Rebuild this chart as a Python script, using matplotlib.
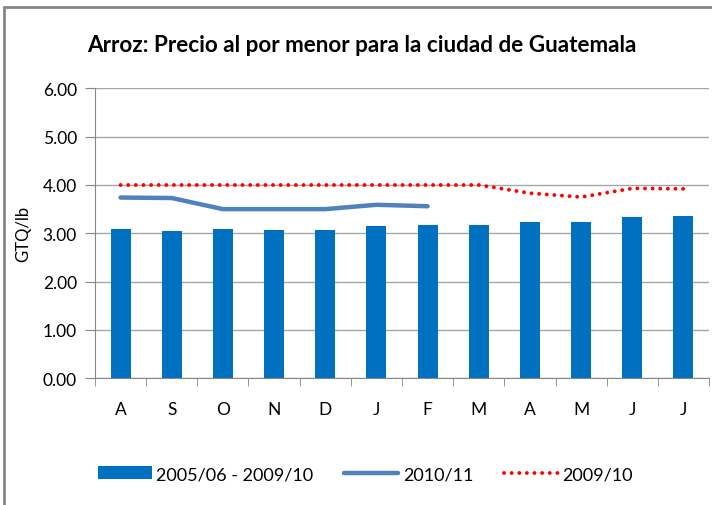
import matplotlib
matplotlib.use('Agg')
from matplotlib import pyplot as plt
from matplotlib.patches import Rectangle
import numpy as np

# Data
months = ['A', 'S', 'O', 'N', 'D', 'J', 'F', 'M', 'A', 'M', 'J', 'J']
avg_0506_0910 = [3.09, 3.04, 3.08, 3.06, 3.06, 3.15, 3.17, 3.17, 3.23, 3.23, 3.34, 3.36]
season_1011 = [3.74, 3.73, 3.50, 3.50, 3.50, 3.59, 3.56]
season_0910 = [4.00, 4.00, 4.00, 4.00, 4.00, 4.00, 4.00, 4.00, 3.83, 3.75, 3.93, 3.92]
yticks = [0, 1, 2, 3, 4, 5, 6]

plt.rcParams['font.family'] = ['Lato', 'DejaVu Sans']

fig = plt.figure(figsize=(7.12, 5.06), dpi=100)
ax = fig.add_axes([0.1334, 0.2504, 0.9958 - 0.1334, 0.8235 - 0.2504])

x = np.arange(len(months))
bars = ax.bar(x, avg_0506_0910, width=0.39, color='#0070C0', zorder=2)
l1, = ax.plot(x[:len(season_1011)], season_1011, color='#4F81BD', lw=3.2,
              solid_capstyle='round', zorder=3)
l2, = ax.plot(x, season_0910, color='#FF0000', lw=2.8, ls=(0, (0.01, 1.95)),
              dash_capstyle='round', zorder=4)

ax.set_xlim(-0.5, len(months) - 0.5)
ax.set_ylim(0, 6)
ax.set_yticks(yticks)
ax.set_yticklabels(['%.2f' % v for v in yticks], fontsize=12.5)
ax.set_xticks(x)
ax.set_xticklabels(months, fontsize=12.5)
ax.set_xticks(np.arange(-0.5, len(months)), minor=True)
ax.tick_params(axis='x', which='major', length=0, pad=16)
ax.tick_params(axis='x', which='minor', length=6, color='#868686')
ax.tick_params(axis='y', length=7, color='#868686', pad=6)
ax.grid(axis='y', color='#a6a6a6', lw=1, zorder=0)
for s in ['top', 'right']:
    ax.spines[s].set_visible(False)
for s in ['left', 'bottom']:
    ax.spines[s].set_color('#868686')
ax.set_ylabel('GTQ/lb', fontsize=12, labelpad=8)

fig.text(0.508, 0.911, 'Arroz: Precio al por menor para la ciudad de Guatemala',
         ha='center', va='center', fontsize=16.2, fontweight='bold')

fig.legend([bars, l1, l2], ['2005/06 - 2009/10', '2010/11', '2009/10'],
           loc='center', bbox_to_anchor=(0.513, 0.061), ncol=3, frameon=False,
           fontsize=13, handlelength=3.0, columnspacing=1.7, handletextpad=0.25)

fig.patches.append(Rectangle((4 / 712, -0.1), 1.2, 1 - 8 / 506 + 0.1,
                             transform=fig.transFigure, fill=False,
                             edgecolor='#868686', lw=2))

fig.savefig('out.png', dpi=100)
